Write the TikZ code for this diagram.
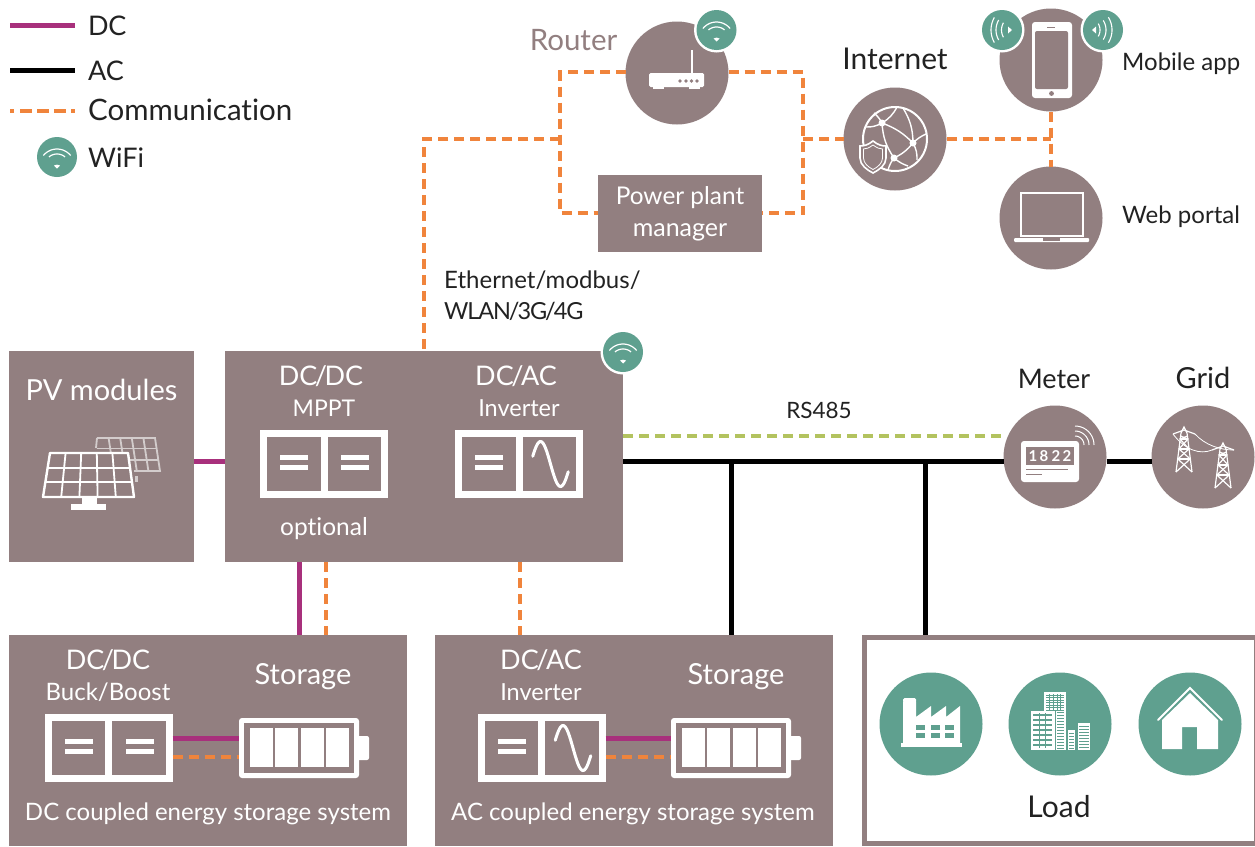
\documentclass[tikz,border=0pt]{standalone}
\usepackage{fontspec}
\setmainfont{Lato}[Ligatures=NoCommon]
\usetikzlibrary{calc}
\definecolor{bg}{HTML}{927F80}
\definecolor{grn}{HTML}{5FA08F}
\definecolor{org}{HTML}{F0843C}
\definecolor{pur}{HTML}{A8307C}
\definecolor{lim}{HTML}{B3C35F}
\definecolor{ink}{HTML}{222222}
\newcommand{\ArcP}[5]{plot[domain=#4:#5,samples=16] ({#1+#2*cos(\x)},{#3+#2*sin(\x)})}
\newcommand{\Sl}{\kern-2.5pt/\kern-2.5pt}
\tikzset{
  x=1pt,y=-1pt,
  block/.style={fill=bg,draw=none,inner sep=0,outer sep=0},
  disc/.style={circle,fill=bg,draw=none,inner sep=0,outer sep=0,minimum size=103pt},
  gdisc/.style={circle,fill=grn,draw=none,inner sep=0,outer sep=0,minimum size=103pt},
  conv/.style={rectangle,draw=white,fill=bg,line width=7pt,inner sep=0,outer sep=3.5pt,minimum width=121pt,minimum height=61pt},
  dcl/.style={draw=pur,line width=5pt},
  acl/.style={draw=black,line width=5pt},
  coml/.style={draw=org,line width=4pt,dash pattern=on 10pt off 6pt},
  rsl/.style={draw=lim,line width=4pt,dash pattern=on 10pt off 6pt},
  sz/.style={font=\fontsize{#1}{#1}\selectfont},
  big/.style={anchor=base,inner sep=0,sz=29},
  med/.style={anchor=base,inner sep=0,sz=24},
  wht/.style={text=white},
  dark/.style={text=ink},
  ico/.style={draw=white,line width=2pt},
  wifibadge/.pic={
    \fill[white] (0,0) circle[radius=22.5pt];
    \fill[grn] (0,0) circle[radius=20pt];
    \draw[white,line width=1.2pt] \ArcP{0}{17.5}{9.5}{219}{321};
    \draw[white,line width=1.2pt] \ArcP{0}{12.5}{9.5}{230}{310};
    \fill[white] (-3,8.5) -- (0,7.6) -- (3,8.5) -- (0,11.5) -- cycle;
  },
  eqbars/.pic={
    \fill[white] (-14,-7) rectangle (14,-2);
    \fill[white] (-14,3) rectangle (14,8);
  },
  dcdcin/.pic={
    \fill[white] (-3.5,-30) rectangle (3.5,30);
    \pic at (-30,-2) {eqbars};
    \pic at (31,-2) {eqbars};
  },
  dcacin/.pic={
    \fill[white] (-3.5,-30) rectangle (3.5,30);
    \pic at (-30,-2) {eqbars};
    \draw[white,line width=3pt,line cap=round] plot[domain=-160:160,samples=41] ({31.5+\x*0.111},{22.5*sin(\x)});
  },
  battery/.pic={
    \fill[white,rounded corners=3pt] (0,0) rectangle (120,60);
    \fill[white,rounded corners=2pt] (118,18) rectangle (130,42);
    \fill[bg] (5,5) rectangle (115,55);
    \foreach \a in {11,36,62,87}{\fill[white] (\a,10) rectangle (\a+22.5,49);}
  }
}
\begin{document}
\begin{tikzpicture}
\useasboundingbox (0,0) rectangle (1255,846);
\fill[white] (0,0) rectangle (1255,846);

% ---------- legend
\coordinate (la1) at (10,25); \coordinate (lb1) at (75,25);
\coordinate (la2) at (10,70); \coordinate (lb2) at (75,70);
\coordinate (la3) at (10,111); \coordinate (lb3) at (75,111);
\draw[dcl] (la1) -- (lb1);
\draw[acl] (la2) -- (lb2);
\draw[coml,dash pattern=on 4pt off 6pt on 12pt off 5pt on 12pt off 5pt on 12pt off 5pt on 4pt] (la3) -- (lb3);
\node[big,dark,anchor=base west,sz=27] (tdc) at (88,35) {D\kern-.5pt C};
\node[big,dark,anchor=base west,sz=27] (tac) at (88,80) {AC};
\node[big,dark,anchor=base west,sz=29.5] (tcm) at (88,120.5) {Communication};
\node[big,dark,anchor=base west,sz=27] (twf) at (88,167) {WiFi};
\pic at (57,157) {wifibadge};

% ---------- blocks
\node[block,minimum width=185pt,minimum height=211pt] (pv) at (101.5,456.5) {};
\node[block,minimum width=398pt,minimum height=211pt] (main) at (424,456.5) {};
\node[block,minimum width=398pt,minimum height=211pt] (dcs) at (208,740.5) {};
\node[block,minimum width=398pt,minimum height=211pt] (acs) at (634,740.5) {};
\node[block,minimum width=164pt,minimum height=77pt] (ppm) at (680,213.5) {};
\node[rectangle,draw=bg,fill=white,line width=5pt,inner sep=0,outer sep=2.5pt,minimum width=391.5pt,minimum height=205.5pt] (load) at (1060.25,740.5) {};

% ---------- discs
\node[disc] (router) at (677,73) {};
\node[disc] (inet) at (895,139) {};
\node[disc] (phone) at (1051,60) {};
\node[disc] (web) at (1051,218) {};
\node[disc] (meter) at (1055,457) {};
\node[disc] (grid) at (1203,457) {};
\node[gdisc] (fac) at (931,724) {};
\node[gdisc] (bld) at (1060,724) {};
\node[gdisc] (hom) at (1190,724) {};

% ---------- communication network
\coordinate (ltl) at (560,72);
\coordinate (lbl) at (560,213);
\coordinate (ltr) at (803,72);
\coordinate (lbr) at (803,213);
\coordinate (lml) at (560,139);
\coordinate (lmr) at (803,139);
\coordinate (eth) at (424,139);
\coordinate (ethb) at (424,351);
\coordinate (jun) at (1051,139);
\draw[coml] (router.west |- ltl) -- (ltl) -- (lbl) -- (ppm.west |- lbl);
\draw[coml] (router.east |- ltr) -- (ltr) -- (lbr) -- (ppm.east |- lbr);
\draw[coml] (lml) -- (eth) -- (ethb);
\draw[coml] (lmr) -- (inet.west);
\draw[coml] (inet.east) -- (jun);
\draw[coml] (phone.south) -- (web.north);

% ---------- power connectors
\coordinate (b1) at (731,461);
\coordinate (b2) at (925,461);
\coordinate (m1) at (623,461);
\coordinate (rs) at (623,436);
\draw[dcl] (pv.east |- m1) -- (main.west |- m1);
\draw[acl] (m1) -- (meter.west |- m1);
\draw[acl] (meter.east |- m1) -- (grid.west |- m1);
\draw[acl] (b1) -- (b1 |- acs.north);
\draw[acl] (b2) -- (b2 |- load.north);
\draw[rsl] (rs) -- (meter.west |- rs);
\coordinate (d1) at (299,562);
\coordinate (d2) at (326,562);
\coordinate (d3) at (520,562);
\draw[dcl] (d1) -- (d1 |- dcs.north);
\draw[coml] (d2) -- (d2 |- dcs.north);
\draw[coml] (d3) -- (d3 |- acs.north);

% ---------- converter boxes
\node[conv] (c1) at (324,464) {};
\pic at (324,464) {dcdcin};
\node[conv] (c2) at (519,464) {};
\pic at (519,464) {dcacin};
\node[conv] (c3) at (108.5,748) {};
\pic at (108.5,748) {dcdcin};
\node[conv] (c4) at (541.5,748) {};
\pic at (541.5,748) {dcacin};

% ---------- batteries and inner links
\pic at (239,718) {battery};
\pic at (671,718) {battery};
\coordinate (bat1a) at (239,738); \coordinate (bat1b) at (239,757);
\coordinate (bat2a) at (671,738); \coordinate (bat2b) at (671,757);
\draw[dcl] (c3.east |- bat1a) -- (bat1a);
\draw[coml] (c3.east |- bat1b) -- (bat1b);
\draw[dcl] (c4.east |- bat2a) -- (bat2a);
\draw[coml] (c4.east |- bat2b) -- (bat2b);

% ---------- badges
\pic at (716.5,30) {wifibadge};
\pic at (623,352) {wifibadge};

% ---------- labels
\node[big,text=bg,sz=29.5] (trt) at (573.5,50) {Router};
\node[big,dark,sz=30] (tin) at (895,69) {Internet};
\node[med,dark,anchor=base west] (tma) at (1122,70) {Mobile app};
\node[med,dark,anchor=base west] (twp) at (1122,223) {Web portal};
\node[med,wht,sz=24.4] (tp1) at (680,204) {Power plant};
\node[med,wht,sz=25] (tp2) at (680,236) {manager};
\node[med,dark,anchor=base west] (te1) at (444,288) {Ethernet/modbus/};
\node[med,dark,anchor=base west,font=\fontsize{23.5}{24}\selectfont\addfontfeature{LetterSpace=-5}] (te2) at (444,319) {WLAN\kern-2pt/\kern-2pt3G\kern-2pt/\kern-2pt4G};
\node[big,wht] (tpv) at (101.5,400) {PV modules};
\node[big,wht,sz=27] (t1) at (321,385) {DC\Sl DC};
\node[med,wht,sz=23] (t2) at (324,416) {MPPT};
\node[med,wht,sz=24.5] (t3) at (324,535) {optional};
\node[big,wht,sz=27] (t4) at (516,385) {DC\Sl AC};
\node[med,wht,sz=23.5] (t5) at (519,416) {Inverter};
\node[med,dark,sz=22.5] (trs) at (819,418) {RS485};
\node[big,dark,sz=27] (tme) at (1054,388) {Meter};
\node[big,dark] (tgr) at (1203,388) {Grid};
\node[big,wht,sz=27] (t6) at (108,669) {DC\Sl DC};
\node[med,wht] (t7) at (108,700) {Buck/Boost};
\node[big,wht] (t8) at (303,684) {Storage};
\node[med,wht] (t9) at (208,820) {DC coupled energy storage system};
\node[big,wht,sz=27] (t10) at (541,669) {DC\Sl AC};
\node[med,wht,sz=23.5] (t11) at (541,700) {Inverter};
\node[big,wht] (t12) at (736,684) {Storage};
\node[med,wht] (t13) at (633,820) {AC coupled energy storage system};
\node[big,dark,sz=30] (tld) at (1059,817) {Load};

% ---------- router icon
\fill[white,rounded corners=1.5pt] (649,73) rectangle (704,87);
\fill[white] (653,87) rectangle (664,89);
\fill[white] (689,87) rectangle (700,89);
\fill[white] (690.8,50) rectangle (692.8,74);
\foreach \a in {680,686,691.5,697}{\fill[bg] (\a,81) circle[radius=1.8pt];}

% ---------- globe icon
\draw[ico] (inet.center) circle[radius=32pt];
\coordinate (ga) at (882,123); \coordinate (gb) at (913,143); \coordinate (gc) at (894,158);
\begin{scope}[ico,line width=1.4pt]
\draw (ga) to[bend left=12] (gb);
\draw (ga) to[bend right=15] (gc);
\draw (gb) to[bend left=12] (gc);
\draw (ga) to[bend left=15] (866,127);
\draw (ga) to[bend right=15] (897,107);
\draw (ga) to[bend right=10] (874,113);
\draw (gb) to[bend right=15] (903,108);
\draw (gb) to[bend left=10] (926,134);
\draw (gb) to[bend left=15] (917,160);
\draw (gc) to[bend right=10] (888,170);
\draw (gc) to[bend right=10] (908,166);
\end{scope}
\foreach \p in {ga,gb,gc}{\fill[white] (\p) circle[radius=3.5pt];}
\draw[white,fill=bg,line width=1.6pt] (873,141) .. controls (868,145) and (864,146) .. (860,146) -- (860,158) .. controls (860,165) and (867,170) .. (873,173) .. controls (879,170) and (886,165) .. (886,158) -- (886,146) .. controls (882,146) and (878,145) .. (873,141) -- cycle;
\draw[white,line width=.8pt] (873,145) .. controls (869,148) and (866,149) .. (863.5,149) -- (863.5,158) .. controls (863.5,163) and (868,167) .. (873,169.5) .. controls (878,167) and (882.5,163) .. (882.5,158) -- (882.5,149) .. controls (880,149) and (877,148) .. (873,145) -- cycle;

% ---------- phone icon
\fill[white,rounded corners=3pt] (1032,22) rectangle (1072,98);
\fill[bg,rounded corners=2pt] (1035,31) rectangle (1068,89);
\fill[bg] (1047,26.5) rectangle (1055,27.5);
\fill[bg] (1051.5,93.5) circle[radius=2.4pt];
\fill[white] (1002,30) circle[radius=22.5pt];
\fill[grn] (1002,30) circle[radius=20pt];
\fill[white] (1103,30) circle[radius=22.5pt];
\fill[grn] (1103,30) circle[radius=20pt];
\foreach \r in {14.5,20,25}{
  \draw[white,line width=1.1pt] \ArcP{1016}{\r}{30}{150}{210};
}
\foreach \r in {12,18,24}{
  \draw[white,line width=1.1pt] \ArcP{1088}{\r}{30}{-32}{32};
}
\fill[white] (1012,30) -- (1008,26.5) -- (1008,33.5) -- cycle;
\fill[white] (1092,30) -- (1096,26.5) -- (1096,33.5) -- cycle;

% ---------- laptop icon
\draw[white,line width=2pt] (1021,193) rectangle (1083,236);
\fill[white,rounded corners=1pt] (1014,238) rectangle (1089,242);
\fill[bg] (1043,238) rectangle (1060,240.5);

% ---------- solar panel icon
\begin{scope}[draw=white!60!bg,line width=1.8pt]
\draw (97,438) -- (155,438) -- (160,471) -- (134,471);
\draw (97,438) -- (96,448);
\foreach \i in {1,...,4}{\draw ({97+\i*11.6},438) -- ({102+\i*11.6},471);}
\draw (97,448.5) -- (157,448.5);
\draw (130,460) -- (159,460);
\fill[white!60!bg] (135,476) rectangle (138,482);
\end{scope}
\draw[white,fill=bg,line width=2.4pt,line join=round] (50,453) -- (128,453) -- (134,497) -- (43,497) -- cycle;
\foreach \i in {1,...,4}{\draw[white,line width=1.8pt] ({50+\i*15.6},453) -- ({43+\i*18.2},497);}
\draw[white,line width=1.8pt] (48,467.7) -- (130,467.7);
\draw[white,line width=1.8pt] (46,482.3) -- (132,482.3);
\fill[white] (82,497) rectangle (97,504);
\fill[white] (71,504) rectangle (106,510);

% ---------- meter icon
\fill[white,rounded corners=3pt] (1021,441) rectangle (1079,482);
\fill[bg] (1026,447) rectangle (1074,465);
\foreach \n/\a/\d in {d1/1033/1,d2/1044/8,d3/1056/2,d4/1067/2}{
  \node[anchor=base,inner sep=0,text=white,font=\fontsize{15}{15}\selectfont\bfseries] (\n) at (\a,461) {\d};
}
\fill[bg] (1026,468.5) rectangle (1068,470);
\fill[bg] (1026,473.5) rectangle (1042,475);
\foreach \r in {9,14,19}{\draw[white,line width=1pt] \ArcP{1075}{\r}{445}{-90}{0};}

% ---------- grid icon
\foreach \tx/\ty in {1184/427,1223/443}{
  \begin{scope}[shift={(\tx,\ty)},white,line width=1.2pt]
    \draw (-8,45) -- (-3,6) -- (0,0) -- (3,6) -- (8,45);
    \draw (-11,7) -- (0,3) -- (11,7);
    \draw (-8,45) -- (6.2,32) -- (-5,22) -- (4,12) -- (-3.6,9);
    \draw (8,45) -- (-6.2,32) -- (5,22) -- (-4,12) -- (3.6,9);
    \draw (-3.8,12) -- (3.8,12);
    \draw (-5,22) -- (5,22);
    \draw (-6.2,32) -- (6.2,32);
  \end{scope}
}
\draw[white,line width=.8pt] (1173,434) .. controls (1185,450) and (1200,455) .. (1212,450);
\draw[white,line width=.8pt] (1195,434) .. controls (1205,445) and (1220,450) .. (1234,450);

% ---------- factory icon
\fill[white] (901,743) rectangle (962,747);
\fill[white,rounded corners=1.5pt] (903,698) rectangle (916,703);
\fill[white] (903,702) -- (916,702) -- (916,717) -- (931,706) -- (931,717) -- (946,706) -- (946,717) -- (960,706) -- (960,743) -- (903,743) -- cycle;
\foreach \a in {916,931,945}{
  \fill[grn] (\a,725) rectangle (\a+9,730);
  \fill[grn] (\a,733) rectangle (\a+9,738);
}

% ---------- buildings icon
\fill[white] (1044,692) rectangle (1066,750);
\foreach \i in {0,...,6}{\draw[grn,line width=.5pt] (1046,{695+\i*2.5}) -- (1064,{695+\i*2.5});}
\foreach \i in {1,...,4}{\draw[grn,line width=.5pt] ({1046+\i*3.6},694) -- ({1046+\i*3.6},710);}
\foreach \i in {0,...,12}{\draw[grn,line width=.5pt] (1057,{712+\i*3}) -- (1064,{712+\i*3});}
\draw[grn,line width=.8pt] (1055,711) -- (1055,750);
\fill[white] (1031,711) rectangle (1054,750);
\foreach \i in {0,...,6}{\fill[grn] (1033,{714+\i*5}) rectangle (1052,{716+\i*5});}
\foreach \i in {1,2}{\draw[grn,line width=.8pt] ({1033+\i*6.3},713) -- ({1033+\i*6.3},748);}
\fill[white] (1068,730) rectangle (1075,750);
\foreach \i in {0,...,5}{\draw[grn,line width=.5pt] (1069,{733+\i*3}) -- (1074,{733+\i*3});}
\fill[white] (1078,723) rectangle (1090,750);
\foreach \i in {0,...,7}{\draw[grn,line width=.7pt] (1079,{726+\i*3}) -- (1089,{726+\i*3});}

% ---------- house icon
\fill[white] (1162,720) -- (1190,693) -- (1218,720) -- (1218,749) -- (1197,749) -- (1197,727) -- (1182,727) -- (1182,749) -- (1162,749) -- cycle;
\draw[white,line width=2pt,line cap=round] (1158,720) -- (1190,688) -- (1222,720);
\end{tikzpicture}
\end{document}
